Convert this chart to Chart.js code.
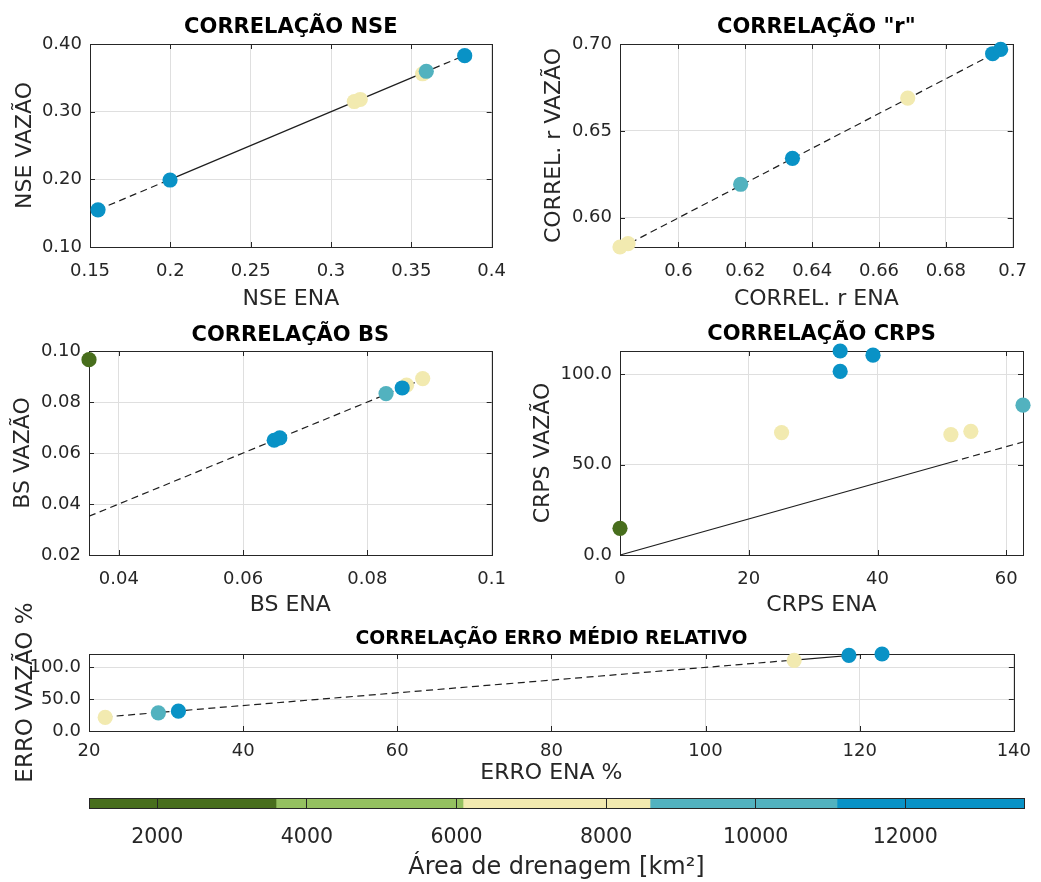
<!DOCTYPE html>
<html><head><meta charset="utf-8">
<script src="https://cdn.jsdelivr.net/npm/chart.js@4/dist/chart.umd.min.js"></script>
<style>
html,body{margin:0;padding:0;background:#fff;}
#wrap{position:relative;width:1041px;height:882px;overflow:hidden;background:#fff;}
canvas{position:absolute;}
</style></head><body><div id="wrap">
<canvas id="c1"></canvas><canvas id="c2"></canvas><canvas id="c3"></canvas>
<canvas id="c4"></canvas><canvas id="c5"></canvas><canvas id="c6"></canvas>
</div>
<script>
// ---------- palette of drainage-area classes ----------
const classColors = ['#486e1d', '#94c060', '#f2eab0', '#52b2bf', '#0992c6'];

// ---------- NSE ----------
const nseEna    = [0.155, 0.1998, 0.3145, 0.3182, 0.357, 0.3593, 0.3832];
const nseVazao  = [0.155, 0.1990, 0.315, 0.318, 0.356, 0.3597, 0.3828];
const nseClass  = [4, 4, 2, 2, 2, 3, 4];
const nseLineX  = [0.155, 0.200, 0.357, 0.383];
const nseLineY  = [0.155, 0.200, 0.357, 0.383];
const nseXTicks = [0.15, 0.2, 0.25, 0.3, 0.35, 0.4];
const nseXLabels = ['0.15', '0.2', '0.25', '0.3', '0.35', '0.4'];
const nseYTicks = [0.1, 0.2, 0.3, 0.4];
const nseYLabels = ['0.10', '0.20', '0.30', '0.40'];

// ---------- Correlation r ----------
const rEna    = [0.5825, 0.5849, 0.6186, 0.6341, 0.6686, 0.6940, 0.6964];
const rVazao  = [0.5832, 0.5851, 0.6193, 0.6342, 0.6689, 0.6944, 0.6969];
const rClass  = [2, 2, 3, 4, 2, 4, 4];
const rLineX  = [0.5825, 0.6964];
const rLineY  = [0.5825, 0.6964];
const rXTicks = [0.6, 0.62, 0.64, 0.66, 0.68, 0.7];
const rXLabels = ['0.6', '0.62', '0.64', '0.66', '0.68', '0.7'];
const rYTicks = [0.6, 0.65, 0.7];
const rYLabels = ['0.60', '0.65', '0.70'];

// ---------- BS ----------
const bsEna    = [0.0352, 0.0650, 0.0659, 0.0830, 0.0863, 0.0856, 0.0889];
const bsVazao  = [0.0966, 0.0650, 0.0659, 0.0833, 0.0866, 0.0855, 0.0892];
const bsClass  = [0, 4, 4, 3, 2, 4, 2];
const bsLineX  = [0.0352, 0.0889];
const bsLineY  = [0.0352, 0.0889];
const bsXTicks = [0.04, 0.06, 0.08, 0.1];
const bsXLabels = ['0.04', '0.06', '0.08', '0.1'];
const bsYTicks = [0.02, 0.04, 0.06, 0.08, 0.1];
const bsYLabels = ['0.02', '0.04', '0.06', '0.08', '0.10'];

// ---------- CRPS ----------
const crpsEna    = [0, 25.1, 34.2, 34.2, 39.3, 51.4, 54.5, 62.6];
const crpsVazao  = [14.8, 67.8, 113.0, 101.7, 110.7, 66.7, 68.5, 83.0];
const crpsClass  = [0, 2, 4, 4, 4, 2, 2, 3];
const crpsLineX  = [0, 51.4, 62.6];
const crpsLineY  = [0, 51.4, 62.6];
const crpsXTicks = [0, 20, 40, 60];
const crpsXLabels = ['0', '20', '40', '60'];
const crpsYTicks = [0, 50, 100];
const crpsYLabels = ['0.0', '50.0', '100.0'];

// ---------- Erro médio relativo ----------
const erroEna    = [22.1, 29.0, 31.6, 111.5, 118.6, 122.9];
const erroVazao  = [21.4, 28.6, 31.2, 111.0, 118.8, 121.0];
const erroClass  = [2, 3, 4, 2, 4, 4];
const erroLineX  = [22.1, 111.5, 121.0];
const erroLineY  = [22.1, 111.5, 121.0];
const erroXTicks = [20, 40, 60, 80, 100, 120, 140];
const erroXLabels = ['20', '40', '60', '80', '100', '120', '140'];
const erroYTicks = [0, 50, 100];
const erroYLabels = ['0.0', '50.0', '100.0'];

// ---------- Colorbar ----------
const areaEdges  = [1087, 3587, 6087, 8587, 11087, 13587];
const areaTicks  = [2000, 4000, 6000, 8000, 10000, 12000];
const areaLabels = ['2000', '4000', '6000', '8000', '10000', '12000'];

// ---------- styling ----------
const FONT = "'DejaVu Sans', sans-serif";
const INK = '#262626';
const GRID = '#dfdfdf';

function place(id, box) {
  const c = document.getElementById(id);
  c.width = box.w; c.height = box.h;
  c.style.left = box.x + 'px'; c.style.top = box.y + 'px';
  c.style.width = box.w + 'px'; c.style.height = box.h + 'px';
  return c;
}

const boxPlugin = {
  id: 'mbox',
  beforeDatasetsDraw(chart) {
    const { ctx, chartArea: a, scales } = chart;
    const tl = 5;
    ctx.save();
    ctx.strokeStyle = INK; ctx.lineWidth = 1;
    ctx.beginPath();
    scales.x.ticks.forEach(t => {
      const p = Math.round(scales.x.getPixelForValue(t.value)) + 0.5;
      ctx.moveTo(p, a.bottom); ctx.lineTo(p, a.bottom - tl);
      ctx.moveTo(p, a.top); ctx.lineTo(p, a.top + tl);
    });
    scales.y.ticks.forEach(t => {
      const p = Math.round(scales.y.getPixelForValue(t.value)) + 0.5;
      ctx.moveTo(a.left, p); ctx.lineTo(a.left + tl, p);
      ctx.moveTo(a.right, p); ctx.lineTo(a.right - tl, p);
    });
    ctx.stroke();
    ctx.strokeRect(Math.round(a.left) + 0.5, Math.round(a.top) + 0.5,
                   Math.round(a.right - a.left), Math.round(a.bottom - a.top));
    ctx.restore();
  }
};

function scatterChart(id, box, area, cfg) {
  const canvas = place(id, box);
  const L = area.l - box.x, T = area.t - box.y;
  const R = box.x + box.w - area.r, B = box.y + box.h - area.b;
  const titleSize = cfg.titleSize || 21;
  const titleLH = titleSize * 1.2;
  return new Chart(canvas, {
    type: 'scatter',
    data: {
      datasets: [
        {
          data: cfg.xs.map((x, i) => ({ x, y: cfg.ys[i] })),
          backgroundColor: cfg.cls.map(k => classColors[k]),
          pointRadius: 7.6, pointHoverRadius: 7.6, borderWidth: 0, order: 0,
          clip: false
        },
        {
          type: 'line',
          data: cfg.lx.map((x, i) => ({ x, y: cfg.ly[i] })),
          borderColor: '#1e1e1e', borderWidth: 1.2, pointRadius: 0, fill: false,
          tension: 0, order: 1,
          segment: { borderDash: c => (cfg.dashes[c.p0DataIndex] ? [7, 4.5] : []) }
        }
      ]
    },
    options: {
      responsive: false, animation: false, devicePixelRatio: 1,
      events: [],
      layout: { padding: { left: 0, right: R, top: 0, bottom: 0 } },
      plugins: {
        legend: { display: false }, tooltip: { enabled: false },
        title: {
          display: true, text: cfg.title, fullSize: false, color: '#000',
          font: { family: FONT, size: titleSize, weight: 'bold', lineHeight: 1.2 },
          padding: { top: cfg.titleTop, bottom: T - cfg.titleTop - titleLH }
        }
      },
      scales: {
        x: {
          type: 'linear', min: cfg.xMin, max: cfg.xMax,
          afterBuildTicks: s => { s.ticks = cfg.xTicks.map(v => ({ value: v })); },
          afterFit: s => { s.height = B; },
          grid: { color: GRID, drawTicks: false },
          border: { display: false },
          ticks: {
            autoSkip: false, maxRotation: 0, padding: cfg.xTickPad || 14, color: INK,
            font: { family: FONT, size: 18 },
            callback: (v, i) => cfg.xLabels[i]
          },
          title: {
            display: true, text: cfg.xTitle, color: INK,
            font: { family: FONT, size: 22, lineHeight: 1.2 },
            padding: { top: 0, bottom: cfg.xTitleBottom }
          }
        },
        y: {
          type: 'linear', min: cfg.yMin, max: cfg.yMax,
          afterBuildTicks: s => { s.ticks = cfg.yTicks.map(v => ({ value: v })); },
          afterFit: s => { s.width = L; },
          grid: { color: GRID, drawTicks: false },
          border: { display: false },
          ticks: {
            autoSkip: false, padding: 8, color: INK,
            font: { family: FONT, size: 18 },
            callback: (v, i) => cfg.yLabels[i]
          },
          title: {
            display: true, text: cfg.yTitle, color: INK,
            font: { family: FONT, size: cfg.yTitleSize || 22, lineHeight: 1.2 },
            padding: { top: cfg.yTitleTop, bottom: 0 }
          }
        }
      }
    },
    plugins: [boxPlugin]
  });
}

scatterChart('c1', { x: 0, y: 0, w: 520, h: 318 }, { l: 90, t: 44, r: 492, b: 247 }, {
  xs: nseEna, ys: nseVazao, cls: nseClass, lx: nseLineX, ly: nseLineY, dashes: [true, false, true],
  xMin: 0.15, xMax: 0.4, yMin: 0.1, yMax: 0.4,
  xTicks: nseXTicks, xLabels: nseXLabels, yTicks: nseYTicks, yLabels: nseYLabels,
  title: 'CORRELAÇÃO NSE', titleTop: 15, xTitle: 'NSE ENA', yTitle: 'NSE VAZÃO',
  xTitleBottom: 6, yTitleTop: 12
});

scatterChart('c2', { x: 520, y: 0, w: 521, h: 318 }, { l: 620, t: 44, r: 1023, b: 247 }, {
  xs: rEna, ys: rVazao, cls: rClass, lx: rLineX, ly: rLineY, dashes: [true],
  xMin: 0.5825, xMax: 0.7, yMin: 0.5832, yMax: 0.7,
  xTicks: rXTicks, xLabels: rXLabels, yTicks: rYTicks, yLabels: rYLabels,
  title: 'CORRELAÇÃO "r"', titleTop: 15, xTitle: 'CORREL. r ENA', yTitle: 'CORREL. r VAZÃO',
  xTitleBottom: 6, yTitleTop: 21
});

scatterChart('c3', { x: 0, y: 305, w: 520, h: 320 }, { l: 89, t: 351, r: 493, b: 555 }, {
  xs: bsEna, ys: bsVazao, cls: bsClass, lx: bsLineX, ly: bsLineY, dashes: [true],
  xMin: 0.0352, xMax: 0.1, yMin: 0.02, yMax: 0.1,
  xTicks: bsXTicks, xLabels: bsXLabels, yTicks: bsYTicks, yLabels: bsYLabels,
  title: 'CORRELAÇÃO BS', titleTop: 18, xTitle: 'BS ENA', yTitle: 'BS VAZÃO',
  xTitleBottom: 7, yTitleTop: 10
});

scatterChart('c4', { x: 520, y: 305, w: 521, h: 320 }, { l: 620, t: 351, r: 1023, b: 555 }, {
  xs: crpsEna, ys: crpsVazao, cls: crpsClass, lx: crpsLineX, ly: crpsLineY, dashes: [false, true],
  xMin: 0, xMax: 62.6, yMin: 0, yMax: 113,
  xTicks: crpsXTicks, xLabels: crpsXLabels, yTicks: crpsYTicks, yLabels: crpsYLabels,
  title: 'CORRELAÇÃO CRPS', titleTop: 17, xTitle: 'CRPS ENA', yTitle: 'CRPS VAZÃO',
  xTitleBottom: 7, yTitleTop: 10
});

scatterChart('c5', { x: 0, y: 600, w: 1041, h: 195 }, { l: 89, t: 654, r: 1023, b: 731 }, {
  xs: erroEna, ys: erroVazao, cls: erroClass, lx: erroLineX, ly: erroLineY, dashes: [true, false],
  xMin: 20, xMax: 140, yMin: 0, yMax: 121,
  xTicks: erroXTicks, xLabels: erroXLabels, yTicks: erroYTicks, yLabels: erroYLabels,
  title: 'CORRELAÇÃO ERRO MÉDIO RELATIVO', titleSize: 18.8, titleTop: 28,
  xTitle: 'ERRO ENA %', yTitle: 'ERRO VAZÃO %', yTitleSize: 23,
  xTitleBottom: 9, yTitleTop: 12, xTickPad: 10
});

// ---------- colorbar ----------
(function () {
  const box = { x: 0, y: 780, w: 1041, h: 102 };
  const area = { l: 89, t: 798, r: 1024, b: 808 };
  const canvas = place('c6', box);
  new Chart(canvas, {
    type: 'bar',
    data: {
      labels: [''],
      datasets: classColors.map((c, k) => ({
        data: [[areaEdges[k], areaEdges[k + 1]]],
        backgroundColor: c, borderWidth: 0,
        barPercentage: 1, categoryPercentage: 1, grouped: false
      }))
    },
    options: {
      indexAxis: 'y', responsive: false, animation: false, devicePixelRatio: 1, events: [],
      layout: { padding: { left: area.l - box.x, right: box.x + box.w - area.r, top: area.t - box.y, bottom: 0 } },
      plugins: { legend: { display: false }, tooltip: { enabled: false } },
      scales: {
        x: {
          type: 'linear', min: areaEdges[0], max: areaEdges[areaEdges.length - 1],
          afterBuildTicks: s => { s.ticks = areaTicks.map(v => ({ value: v })); },
          afterFit: s => { s.height = box.y + box.h - area.b; },
          grid: { color: INK, drawTicks: false, z: 1 },
          border: { display: false },
          ticks: {
            autoSkip: false, maxRotation: 0, padding: 17, color: INK,
            font: { family: FONT, size: 20.5 },
            callback: (v, i) => areaLabels[i]
          },
          title: {
            display: true, text: 'Área de drenagem [km²]', color: INK,
            font: { family: FONT, size: 24, lineHeight: 1.2 },
            padding: { top: 0, bottom: 0 }
          }
        },
        y: { display: false }
      }
    },
    plugins: [{
      id: 'cbox',
      afterDraw(chart) {
        const { ctx, chartArea: a } = chart;
        ctx.save(); ctx.strokeStyle = INK; ctx.lineWidth = 1;
        ctx.strokeRect(Math.round(a.left) + 0.5, Math.round(a.top) + 0.5,
                       Math.round(a.right - a.left), Math.round(a.bottom - a.top));
        ctx.restore();
      }
    }]
  });
})();
</script>
</body></html>
